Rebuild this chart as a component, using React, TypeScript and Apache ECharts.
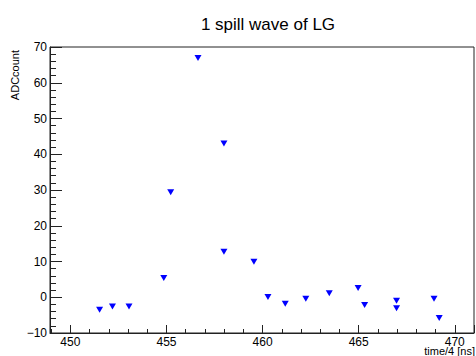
import React, { useEffect, useRef } from "react";
import * as echarts from "echarts";

const TITLE = "1 spill wave of LG";
const X_NAME = "time/4 [ns]";
const Y_NAME = "ADCcount";

const timeValues = [
  451.52, 452.19, 453.05, 454.86, 455.22, 456.64, 457.99, 457.99, 459.55, 460.28,
  461.18, 462.25, 463.47, 464.97, 465.31, 466.97, 466.97, 468.92, 469.19,
];
const adcValues = [
  -3.5, -2.6, -2.6, 5.4, 29.4, 66.9, 43.0, 12.7, 9.9, 0.1,
  -1.8, -0.4, 1.1, 2.6, -2.2, -1.0, -3.1, -0.4, -5.8,
];

const X_MIN = 448.94;
const X_MAX = 471;
const Y_MIN = -10;
const Y_MAX = 70;
const Y_STEP = 10;

const FONT = "'Liberation Sans', Arial, Helvetica, sans-serif";

export default function App() {
  const ref = useRef<HTMLDivElement>(null);

  useEffect(() => {
    if (!ref.current) return;
    const chart = echarts.init(ref.current, undefined, { renderer: "svg" });
    const points = timeValues.map((t, i) => [t, adcValues[i]]);
    const fmt = (v: number) => String(v).replace("-", "\u2212");

    chart.setOption({
      animation: false,
      backgroundColor: "#ffffff",
      title: {
        text: TITLE,
        left: 263,
        top: 11,
        textAlign: "center",
        textStyle: { fontFamily: FONT, fontSize: 17, fontWeight: "normal", color: "#000" },
      },
      grid: {
        left: 50,
        top: 47,
        right: 2,
        bottom: 23,
        show: true,
        borderColor: "#222",
        borderWidth: 1,
        backgroundColor: "transparent",
      },
      xAxis: {
        type: "value",
        min: X_MIN,
        max: X_MAX,
        splitNumber: 5,
        axisLine: { show: true, onZero: false, lineStyle: { color: "#222", width: 1 } },
        axisTick: { show: true, inside: true, length: 8, lineStyle: { color: "#222" } },
        minorTick: { show: true, splitNumber: 5, length: 4, lineStyle: { color: "#222" } },
        splitLine: { show: false },
        axisLabel: {
          show: true,
          margin: 3,
          showMinLabel: false,
          showMaxLabel: false,
          fontFamily: FONT,
          fontSize: 12,
          color: "#000",
          formatter: fmt,
        },
      },
      yAxis: {
        type: "value",
        min: Y_MIN,
        max: Y_MAX,
        interval: Y_STEP,
        axisLine: { show: true, onZero: false, lineStyle: { color: "#222", width: 1 } },
        axisTick: { show: true, inside: true, length: 12, lineStyle: { color: "#222" } },
        minorTick: { show: true, splitNumber: 5, length: 6, lineStyle: { color: "#222" } },
        splitLine: { show: false },
        axisLabel: {
          show: true,
          margin: 3,
          fontFamily: FONT,
          fontSize: 12,
          color: "#000",
          formatter: fmt,
        },
      },
      graphic: [
        {
          type: "text",
          x: 15,
          y: 50,
          rotation: Math.PI / 2,
          style: {
            text: Y_NAME,
            align: "right",
            verticalAlign: "middle",
            fontFamily: FONT,
            fontSize: 11,
            fill: "#000",
          },
        },
        {
          type: "text",
          x: 475,
          y: 356,
          style: {
            text: X_NAME,
            align: "right",
            verticalAlign: "bottom",
            fontFamily: FONT,
            fontSize: 11,
            fill: "#000",
          },
        },
      ],
      series: [
        {
          type: "scatter",
          data: points,
          symbol: "triangle",
          symbolRotate: 180,
          symbolSize: [7, 6],
          itemStyle: { color: "#0000ff", opacity: 1 },
        },
      ],
    });

    return () => chart.dispose();
  }, []);

  return (
    <div
      ref={ref}
      style={{ position: "fixed", left: 0, top: 0, width: 476, height: 356, background: "#fff" }}
    />
  );
}
